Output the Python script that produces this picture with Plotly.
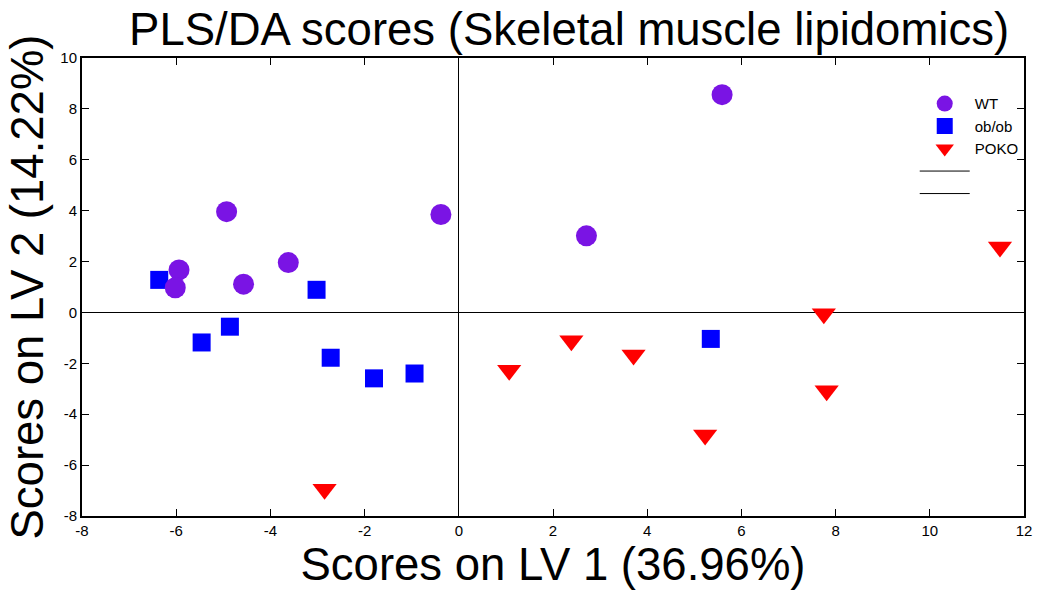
import plotly.graph_objects as go

title_text = "PLS/DA scores (Skeletal muscle lipidomics)"
x_title = "Scores on LV 1 (36.96%)"
y_title = "Scores on LV 2 (14.22%)"

wt_x = [5.59, 2.71, -0.38, -4.93, -3.62, -4.57, -5.94, -6.02]
wt_y = [8.56, 3.01, 3.85, 3.96, 1.96, 1.11, 1.67, 0.97]

ob_x = [-6.36, -3.02, -4.86, -5.46, -2.72, -1.80, -0.94, 5.35]
ob_y = [1.28, 0.89, -0.56, -1.18, -1.78, -2.59, -2.40, -1.04]

poko_x = [1.07, 2.39, 3.71, 5.23, 7.81, 11.49, -2.85, 7.75]
poko_y = [-2.27, -1.11, -1.67, -4.82, -3.08, 2.57, -6.95, -0.05]

x_ticks = [-8, -6, -4, -2, 0, 2, 4, 6, 8, 10, 12]
y_ticks = [-8, -6, -4, -2, 0, 2, 4, 6, 8, 10]

FONT = "Liberation Sans, Arial, sans-serif"

fig = go.Figure()
fig.add_trace(go.Scatter(x=ob_x, y=ob_y, mode="markers", name="ob/ob", legendrank=2,
                         marker=dict(symbol="square", size=18, color="#0000ff", line=dict(width=0))))
fig.add_trace(go.Scatter(x=wt_x, y=wt_y, mode="markers", name="WT", legendrank=1,
                         marker=dict(symbol="circle", size=21, color="#7a14e4", line=dict(width=0))))
fig.add_trace(go.Scatter(x=poko_x, y=poko_y, mode="markers", name="POKO", legendrank=3,
                         marker=dict(symbol="triangle-down", size=21, color="#ff0000", line=dict(width=0))))
fig.add_trace(go.Scatter(x=[None], y=[None], mode="lines", name=" ", legendrank=4,
                         line=dict(color="black", width=1)))
fig.add_trace(go.Scatter(x=[None], y=[None], mode="lines", name="  ", legendrank=5,
                         line=dict(color="black", width=1)))

axis_common = dict(
    showgrid=False, zeroline=True, zerolinecolor="black", zerolinewidth=1,
    showline=True, linecolor="black", linewidth=2, mirror="ticks",
    ticks="inside", ticklen=7, tickwidth=1, tickcolor="black",
    tickfont=dict(family=FONT, size=15, color="black"),
)

fig.update_layout(
    width=1050, height=592,
    margin=dict(l=82, r=26, t=58, b=76),
    paper_bgcolor="white", plot_bgcolor="white",
    font=dict(family=FONT, color="black"),
    title=dict(text=title_text, x=0.542, xanchor="center", y=1 - 29 / 592, yanchor="middle",
               yref="container", font=dict(family=FONT, size=45.5, color="black")),
    xaxis=dict(range=[-8, 12], tickvals=x_ticks, ticktext=[str(v) for v in x_ticks],
               title=dict(text=x_title, font=dict(family=FONT, size=45.5), standoff=8),
               **axis_common),
    yaxis=dict(range=[-8, 10], tickvals=y_ticks, ticktext=[str(v) for v in y_ticks],
               title=dict(text=y_title, font=dict(family=FONT, size=45.5), standoff=2),
               **axis_common),
    legend=dict(x=0.884, y=0.936, xanchor="left", yanchor="top", itemwidth=50,
                font=dict(family=FONT, size=15, color="black"),
                bgcolor="rgba(0,0,0,0)", borderwidth=0),
    showlegend=True,
)

fig.write_html("out.html")
